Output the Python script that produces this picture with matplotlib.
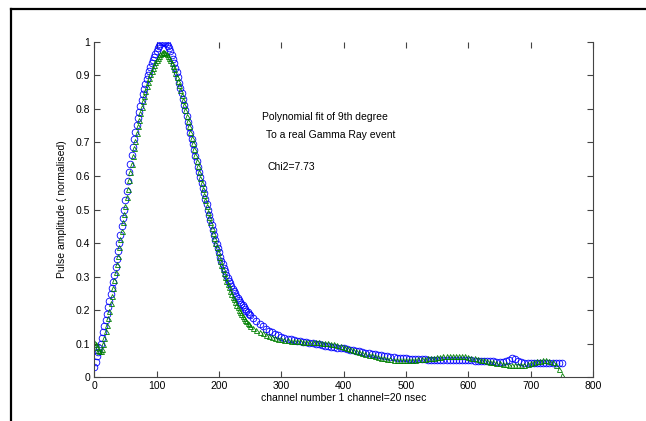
import numpy as np
import matplotlib
matplotlib.use('Agg')
import matplotlib.pyplot as plt
from matplotlib.lines import Line2D

# channels: step 2 over the pulse, step 5 over the tail
ch_head = list(range(0, 252, 2))
ch_tail = list(range(255, 755, 5))
channels = ch_head + ch_tail

# measured pulse (blue circles)
pulse_head = [0.030, 0.046, 0.062, 0.074, 0.086, 0.100, 0.118, 0.136, 0.154, 0.172,
              0.190, 0.209, 0.228, 0.247, 0.266, 0.285, 0.305, 0.328, 0.352, 0.376,
              0.400, 0.425, 0.450, 0.475, 0.500, 0.528, 0.556, 0.584, 0.612, 0.637,
              0.662, 0.687, 0.710, 0.731, 0.752, 0.772, 0.791, 0.809, 0.826, 0.843,
              0.859, 0.874, 0.888, 0.901, 0.914, 0.926, 0.937, 0.947, 0.956, 0.965,
              0.973, 0.981, 0.988, 0.994, 0.998, 1.000, 0.999, 0.997, 0.993, 0.987,
              0.980, 0.971, 0.961, 0.949, 0.937, 0.923, 0.909, 0.894, 0.878, 0.862,
              0.846, 0.830, 0.813, 0.796, 0.779, 0.762, 0.745, 0.728, 0.711, 0.694,
              0.677, 0.660, 0.644, 0.628, 0.612, 0.596, 0.580, 0.564, 0.548, 0.532,
              0.516, 0.500, 0.484, 0.468, 0.453, 0.438, 0.423, 0.408, 0.396, 0.384,
              0.372, 0.360, 0.348, 0.337, 0.326, 0.316, 0.306, 0.297, 0.288, 0.280,
              0.272, 0.264, 0.257, 0.250, 0.243, 0.237, 0.231, 0.225, 0.219, 0.214,
              0.209, 0.204, 0.199, 0.194, 0.190, 0.186]
pulse_tail = [0.177, 0.168, 0.160, 0.152, 0.145, 0.139, 0.134, 0.129, 0.125, 0.121,
              0.117, 0.115, 0.113, 0.111, 0.109, 0.107, 0.105, 0.104, 0.102, 0.101,
              0.099, 0.098, 0.096, 0.094, 0.093, 0.091, 0.090, 0.088, 0.087, 0.086,
              0.084, 0.082, 0.081, 0.079, 0.077, 0.075, 0.073, 0.071, 0.070, 0.068,
              0.067, 0.065, 0.064, 0.062, 0.061, 0.060, 0.059, 0.058, 0.057, 0.057,
              0.056, 0.055, 0.055, 0.054, 0.054, 0.054, 0.053, 0.053, 0.053, 0.053,
              0.053, 0.053, 0.053, 0.053, 0.053, 0.053, 0.053, 0.052, 0.052, 0.051,
              0.051, 0.050, 0.050, 0.050, 0.049, 0.049, 0.048, 0.048, 0.047, 0.047,
              0.047, 0.048, 0.053, 0.058, 0.054, 0.048, 0.045, 0.044, 0.043, 0.043,
              0.042, 0.042, 0.042, 0.042, 0.042, 0.042, 0.042, 0.042, 0.043, 0.042]

# 9th degree polynomial fit (green)
fit_head = [0.105, 0.098, 0.090, 0.082, 0.077, 0.077, 0.085, 0.100, 0.118, 0.137,
            0.157, 0.177, 0.198, 0.220, 0.243, 0.266, 0.290, 0.314, 0.338, 0.362,
            0.387, 0.412, 0.437, 0.462, 0.487, 0.512, 0.537, 0.562, 0.587, 0.612,
            0.636, 0.660, 0.683, 0.705, 0.727, 0.748, 0.768, 0.787, 0.805, 0.822,
            0.838, 0.853, 0.867, 0.880, 0.892, 0.903, 0.913, 0.922, 0.931, 0.939,
            0.946, 0.952, 0.958, 0.963, 0.967, 0.969, 0.969, 0.967, 0.964, 0.959,
            0.953, 0.946, 0.938, 0.929, 0.919, 0.908, 0.896, 0.883, 0.870, 0.856,
            0.842, 0.827, 0.812, 0.796, 0.780, 0.764, 0.748, 0.731, 0.714, 0.697,
            0.680, 0.663, 0.646, 0.629, 0.612, 0.595, 0.578, 0.561, 0.544, 0.527,
            0.510, 0.494, 0.478, 0.462, 0.446, 0.431, 0.416, 0.401, 0.387, 0.373,
            0.360, 0.347, 0.334, 0.322, 0.310, 0.299, 0.288, 0.278, 0.268, 0.258,
            0.249, 0.240, 0.232, 0.224, 0.216, 0.209, 0.202, 0.195, 0.189, 0.183,
            0.177, 0.172, 0.167, 0.162, 0.158, 0.154]
fit_tail = [0.147, 0.141, 0.136, 0.131, 0.127, 0.123, 0.120, 0.117, 0.115, 0.113,
            0.111, 0.110, 0.109, 0.108, 0.107, 0.107, 0.106, 0.106, 0.105, 0.105,
            0.104, 0.104, 0.103, 0.102, 0.101, 0.100, 0.098, 0.096, 0.094, 0.091,
            0.088, 0.085, 0.082, 0.079, 0.076, 0.073, 0.070, 0.067, 0.065, 0.063,
            0.060, 0.058, 0.057, 0.055, 0.054, 0.053, 0.052, 0.052, 0.052, 0.052,
            0.052, 0.053, 0.053, 0.054, 0.055, 0.056, 0.057, 0.058, 0.059, 0.060,
            0.061, 0.062, 0.063, 0.063, 0.064, 0.064, 0.064, 0.063, 0.062, 0.061,
            0.059, 0.057, 0.055, 0.053, 0.051, 0.049, 0.047, 0.045, 0.043, 0.042,
            0.040, 0.039, 0.038, 0.037, 0.037, 0.037, 0.037, 0.038, 0.040, 0.042,
            0.045, 0.048, 0.050, 0.052, 0.052, 0.050, 0.046, 0.038, 0.025, 0.008]

pulse = pulse_head + pulse_tail
fit = fit_head + fit_tail

xticks = [0, 100, 200, 300, 400, 500, 600, 700, 800]
yticks = [0, 0.1, 0.2, 0.3, 0.4, 0.5, 0.6, 0.7, 0.8, 0.9, 1]
ytick_labels = ['0', '0.1', '0.2', '0.3', '0.4', '0.5', '0.6', '0.7', '0.8', '0.9', '1']

plt.rcParams['font.family'] = ['Liberation Sans', 'DejaVu Sans']

fig = plt.figure(figsize=(6.46, 4.21), dpi=100)
ax = fig.add_axes([0.146, 0.1038, 0.772, 0.797])

ax.plot(channels, pulse, 'o', color='#0000ff', markersize=4.8, markerfacecolor='none',
        markeredgewidth=0.6)
ax.plot(channels, fit, '^', color='#008000', markersize=3.6, markerfacecolor='none',
        markeredgewidth=0.6)

ax.set_xlim(0, 800)
ax.set_ylim(0, 1)
ax.set_xticks(xticks)
ax.set_yticks(yticks)
ax.set_yticklabels(ytick_labels)
ax.tick_params(direction='in', length=4, width=0.8, labelsize=7.5, color='#444444',
               top=True, right=True, pad=3)
for side in ['left', 'right', 'bottom']:
    ax.spines[side].set_color('#444444')
    ax.spines[side].set_linewidth(0.8)
ax.spines['top'].set_visible(False)

ax.set_xlabel('channel number 1 channel=20 nsec', fontsize=7.5, labelpad=1)
ax.set_ylabel('Pulse amplitude ( normalised)', fontsize=7.5, labelpad=6)

ax.text(269, 0.777, 'Polynomial fit of 9th degree', fontsize=7.5, va='center')
ax.text(276, 0.721, 'To a real Gamma Ray event', fontsize=7.5, va='center')
ax.text(278, 0.628, 'Chi2=7.73', fontsize=7.5, va='center')

# black frame at left and top of the page
fig.add_artist(Line2D([11 / 646, 11 / 646], [0, 1 - 9 / 421], color='black',
                      linewidth=1.6, transform=fig.transFigure))
fig.add_artist(Line2D([11 / 646, 1], [1 - 9 / 421, 1 - 9 / 421], color='black',
                      linewidth=1.6, transform=fig.transFigure))

fig.savefig('out.png', dpi=100)
